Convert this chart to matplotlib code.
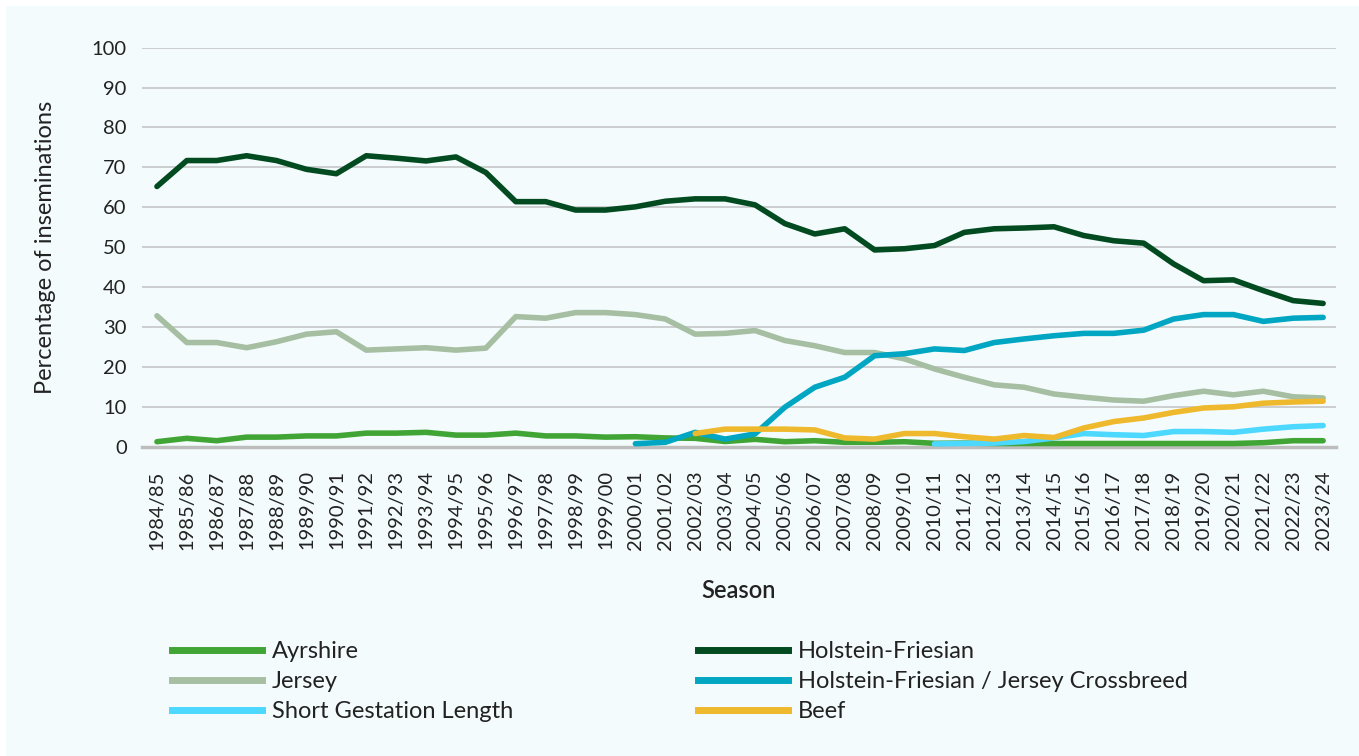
import numpy as np
import matplotlib.pyplot as plt
from matplotlib.patches import Rectangle
from matplotlib.lines import Line2D

plt.rcParams['font.family'] = ['Lato', 'DejaVu Sans']

# seasons on the x axis
seasons = [f"{y}/{str(y + 1)[-2:]}" for y in range(1984, 2024)]

# percentage of inseminations per breed
holstein = [65.2, 71.7, 71.7, 72.9, 71.7, 69.5, 68.4, 72.9, 72.3, 71.6,
            72.6, 68.7, 61.4, 61.4, 59.3, 59.3, 60.1, 61.5, 62.1, 62.1,
            60.6, 55.9, 53.3, 54.6, 49.3, 49.6, 50.4, 53.7, 54.6, 54.8,
            55.1, 52.9, 51.6, 51.0, 45.8, 41.6, 41.8, 39.1, 36.6, 35.9]
jersey = [32.8, 26.1, 26.1, 24.8, 26.3, 28.2, 28.8, 24.2, 24.5, 24.8,
          24.2, 24.7, 32.6, 32.2, 33.6, 33.6, 33.1, 32.0, 28.2, 28.4,
          29.1, 26.6, 25.3, 23.6, 23.6, 22.0, 19.5, 17.4, 15.5, 14.9,
          13.2, 12.4, 11.7, 11.4, 12.8, 13.9, 13.0, 13.9, 12.5, 12.2]
ayrshire = [1.25, 2.1, 1.5, 2.4, 2.4, 2.7, 2.7, 3.4, 3.4, 3.6,
            2.9, 2.9, 3.4, 2.7, 2.7, 2.4, 2.5, 2.2, 2.1, 1.3,
            1.85, 1.25, 1.5, 1.1, 1.1, 1.25, 0.85, 0.9, 0.8, 0.8,
            0.8, 0.8, 0.8, 0.8, 0.8, 0.8, 0.8, 1.0, 1.5, 1.5]
# crossbreed starts 2000/01
crossbreed = [0.75, 1.1, 3.6, 1.9, 3.2, 9.9, 14.9, 17.4, 22.8, 23.3,
              24.5, 24.1, 26.1, 27.0, 27.8, 28.4, 28.4, 29.2, 32.0, 33.1,
              33.1, 31.4, 32.2, 32.4]
# short gestation length starts 2010/11
sgl = [0.7, 0.8, 0.9, 1.3, 2.2, 3.3, 3.0, 2.8, 3.8, 3.8, 3.6, 4.4, 5.0, 5.3]
# beef starts 2002/03
beef = [3.3, 4.4, 4.4, 4.4, 4.2, 2.2, 1.9, 3.3, 3.3, 2.5, 1.9,
        2.8, 2.3, 4.7, 6.3, 7.2, 8.6, 9.7, 10.0, 10.9, 11.2, 11.4]

series = [
    ('Ayrshire', ayrshire, '#41a535'),
    ('Holstein-Friesian', holstein, '#024a1f'),
    ('Jersey', jersey, '#a6bfa3'),
    ('Holstein-Friesian / Jersey Crossbreed', crossbreed, '#00a6c2'),
    ('Short Gestation Length', sgl, '#4dd8ff'),
    ('Beef', beef, '#efb92e'),
]

bg = '#f4fbfd'
txt = '#222222'
fig = plt.figure(figsize=(13.59, 7.56), dpi=100)
fig.patch.set_facecolor('white')
fig.patches.append(Rectangle((6 / 1359, 0), 1, 1 - 6 / 756, transform=fig.transFigure,
                             facecolor=bg, edgecolor='none', zorder=-10))

ax = fig.add_axes([142 / 1359, 1 - 446.7 / 756, (1336 - 142) / 1359, (446.7 - 47.6) / 756])
ax.set_facecolor(bg)

n = len(seasons)
handles = {}
for name, vals, col in series:
    x = np.arange(n - len(vals), n)
    ax.plot(x, vals, color=col, lw=4, solid_capstyle='round',
            solid_joinstyle='round', clip_on=False, zorder=3)
    handles[name] = Line2D([], [], color=col, lw=5)

ax.set_xlim(-0.5, n - 1 + 0.43)
ax.set_ylim(0, 100)
ax.set_yticks(range(0, 101, 10))
ax.set_xticks(range(n))
ax.set_xticklabels(seasons, rotation=90, fontsize=14.5, color=txt)
ax.tick_params(axis='y', labelsize=14.5, colors=txt, length=0, pad=11)
ax.tick_params(axis='x', length=0, pad=17)
ax.grid(axis='y', color='#c6c6c6', lw=1.2)
ax.set_axisbelow(True)
for s in ['top', 'right', 'left']:
    ax.spines[s].set_visible(False)
ax.spines['bottom'].set_color('#bdbdbd')
ax.spines['bottom'].set_linewidth(2.5)

fig.text(46 / 1359, 1 - 247 / 756, 'Percentage of inseminations', rotation=90,
         ha='center', va='center', fontsize=17, color=txt)
fig.text(739 / 1359, 1 - 590 / 756, 'Season', ha='center', va='center',
         fontsize=17, color=txt, fontweight='semibold')

leg_kw = dict(frameon=False, fontsize=17, handlelength=3.8, handletextpad=0.42,
              labelspacing=0.38, borderaxespad=0, borderpad=0, labelcolor=txt)
left_names = ['Ayrshire', 'Jersey', 'Short Gestation Length']
right_names = ['Holstein-Friesian', 'Holstein-Friesian / Jersey Crossbreed', 'Beef']
fig.legend([handles[k] for k in left_names], left_names, loc='upper left',
           bbox_to_anchor=(172 / 1359, 1 - 641 / 756), **leg_kw)
fig.legend([handles[k] for k in right_names], right_names, loc='upper left',
           bbox_to_anchor=(698 / 1359, 1 - 641 / 756), **leg_kw)

fig.savefig('out.png', dpi=100, facecolor=fig.get_facecolor())
